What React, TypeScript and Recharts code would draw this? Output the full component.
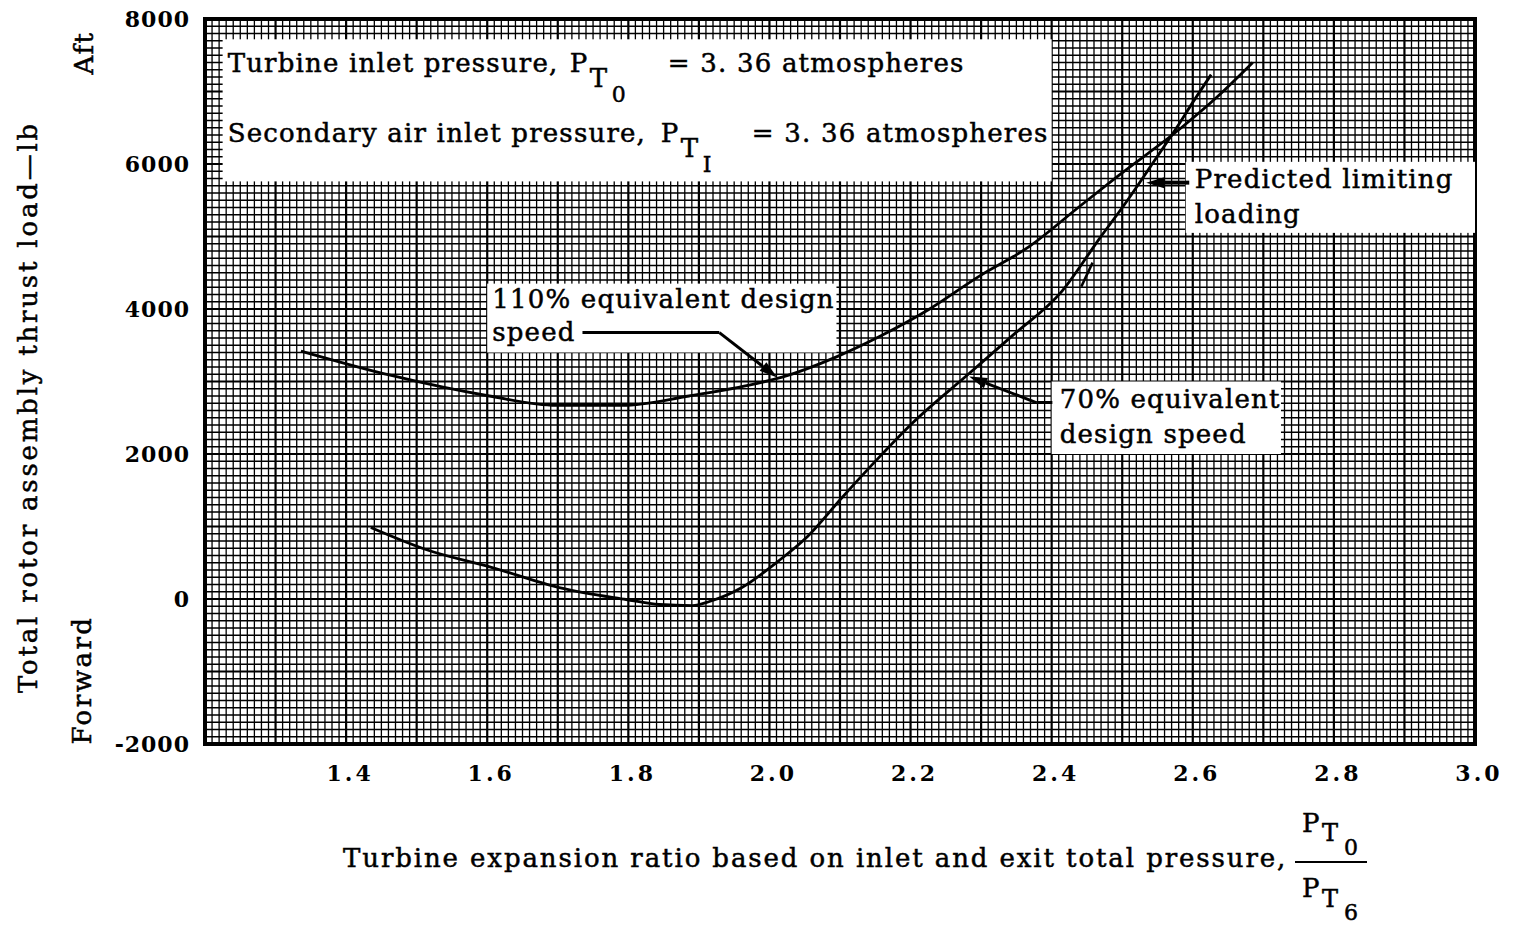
import React from 'react'
import { LineChart, Line, XAxis, YAxis, ReferenceLine, ReferenceArea } from 'recharts'

// 110% equivalent design speed
const ratio110 = [1.336, 1.461, 1.603, 1.698, 1.791, 1.886, 1.981, 2.018, 2.095, 2.156, 2.227, 2.297, 2.368, 2.439, 2.492, 2.585, 2.634, 2.685]
const load110  = [3420, 3090, 2800, 2670, 2670, 2800, 2970, 3060, 3340, 3620, 4000, 4450, 4860, 5410, 5820, 6510, 6920, 7400]

// 70% equivalent design speed
const ratio70 = [1.435, 1.513, 1.607, 1.702, 1.797, 1.844, 1.891, 1.915, 1.961, 2.010, 2.054, 2.103, 2.156, 2.202, 2.283, 2.344, 2.415, 2.468, 2.506, 2.539, 2.577, 2.600, 2.626]
const load70  = [986, 683, 434, 158, -7, -76, -90, -34, 158, 503, 862, 1400, 1960, 2420, 3110, 3630, 4250, 4975, 5480, 5950, 6500, 6850, 7233]

const xTicks = [1.4, 1.6, 1.8, 2.0, 2.2, 2.4, 2.6, 2.8, 3.0]
const yTicks = [-2000, 0, 2000, 4000, 6000, 8000]

const data110 = ratio110.map((r, i) => ({ r, load: load110[i] }))
const data70 = ratio70.map((r, i) => ({ r, load: load70[i] }))

// graph paper rulings
const gridX = Array.from({ length: 181 }, (_, i) => ({ v: Math.round((1.2 + i * 0.01) * 100) / 100, major: i % 10 === 0 }))
const gridY = Array.from({ length: 101 }, (_, i) => ({ v: -2000 + i * 100, major: i % 10 === 0 }))

const FONT = '"DejaVu Serif", serif'
const TXT = { fontFamily: FONT, fontSize: 26, fill: '#000', stroke: '#000', strokeWidth: 0.5, letterSpacing: 1.2 }

function XTick({ x, y, payload }: any) {
  return (
    <text x={x + 4} y={y + 37} textAnchor="middle" fontFamily={FONT} fontWeight="bold" fontSize={22} letterSpacing={3} fill="#000">
      {payload.value.toFixed(1)}
    </text>
  )
}

function YTick({ x, y, payload }: any) {
  return (
    <text x={x - 15} y={y + 8} textAnchor="end" fontFamily={FONT} fontWeight="bold" fontSize={22} letterSpacing={1} fill="#000">
      {payload.value}
    </text>
  )
}

function Arrow(props: any) {
  const { x1, y1, x2, y2, w = 3 } = props
  const a = Math.atan2(y2 - y1, x2 - x1)
  const L = 18, W = 5.5
  const bx = x2 - L * Math.cos(a), by = y2 - L * Math.sin(a)
  const pts = `${x2},${y2} ${bx + W * Math.sin(a)},${by - W * Math.cos(a)} ${bx - W * Math.sin(a)},${by + W * Math.cos(a)}`
  return (
    <g>
      <line x1={x1} y1={y1} x2={bx} y2={by} stroke="#000" strokeWidth={w} />
      <polygon points={pts} fill="#000" />
    </g>
  )
}

type Piece = { dx: number; dy: number; text: string; size?: number; anchor?: string }

// white panel spanning the segment's two corners, with its text
const panel = (pieces: Piece[]) => (props: any) => {
  const { x1, y1, x2, y2 } = props
  const x = Math.min(x1, x2), y = Math.min(y1, y2)
  return (
    <g>
      <rect x={x} y={y} width={Math.abs(x2 - x1)} height={Math.abs(y2 - y1)} fill="#fff" />
      {pieces.map((p, i) => (
        <text key={i} x={x + p.dx} y={y + p.dy} {...TXT} fontSize={p.size ?? 26} textAnchor={p.anchor ?? 'start'}>{p.text}</text>
      ))}
    </g>
  )
}

export default function App() {
  return (
    <div style={{ position: 'absolute', left: 0, top: 0, width: 1519, height: 925, background: '#fff' }}>
      <LineChart width={1519} height={925} margin={{ top: 19, right: 44, left: 125, bottom: 141 }}>
        <XAxis dataKey="r" type="number" domain={[1.2, 3.0]} ticks={xTicks} allowDataOverflow
          axisLine={false} tickLine={false} tickSize={0} tickMargin={0} height={40} tick={<XTick />} />
        <YAxis type="number" domain={[-2000, 8000]} ticks={yTicks} allowDataOverflow
          axisLine={false} tickLine={false} tickSize={0} tickMargin={0} width={80} tick={<YTick />} />

        {gridX.map(g => (
          <ReferenceLine key={'gx' + g.v} x={g.v} stroke="#000" strokeWidth={g.major ? 2.2 : 1.3} />
        ))}
        {gridY.map(g => (
          <ReferenceLine key={'gy' + g.v} y={g.v} stroke="#000" strokeWidth={g.major ? 2.2 : 1.3} />
        ))}

        {/* plot frame */}
        <ReferenceArea x1={1.2} x2={3.0} y1={-2000} y2={8000} fill="none" fillOpacity={0} stroke="#000" strokeWidth={4} />

        {/* white label panels */}
        <ReferenceLine segment={[{ x: 1.225, y: 7720 }, { x: 2.4, y: 5760 }]} shape={panel([
          { dx: 5, dy: 33, text: 'Turbine inlet pressure,' },
          { dx: 347, dy: 33, text: 'P' },
          { dx: 367, dy: 48, text: 'T' },
          { dx: 389, dy: 63, text: '0', size: 22 },
          { dx: 742, dy: 33, text: '= 3. 36 atmospheres', anchor: 'end' },
          { dx: 5, dy: 103, text: 'Secondary air inlet pressure,' },
          { dx: 438, dy: 103, text: 'P' },
          { dx: 458, dy: 118, text: 'T' },
          { dx: 480, dy: 133, text: 'I', size: 22 },
          { dx: 826, dy: 103, text: '= 3. 36 atmospheres', anchor: 'end' },
        ])} />
        <ReferenceLine segment={[{ x: 1.6, y: 4350 }, { x: 2.095, y: 3400 }]} shape={panel([
          { dx: 5, dy: 24, text: '110% equivalent design' },
          { dx: 5, dy: 57, text: 'speed' },
        ])} />
        <ReferenceLine segment={[{ x: 2.4, y: 3000 }, { x: 2.725, y: 2000 }]} shape={panel([
          { dx: 8, dy: 26, text: '70% equivalent' },
          { dx: 8, dy: 61, text: 'design speed' },
        ])} />
        <ReferenceLine segment={[{ x: 2.59, y: 6030 }, { x: 3.0, y: 5050 }]} shape={panel([
          { dx: 9, dy: 26, text: 'Predicted limiting' },
          { dx: 9, dy: 61, text: 'loading' },
        ])} />

        {/* leaders */}
        <ReferenceLine segment={[{ x: 1.735, y: 3675 }, { x: 1.929, y: 3675 }]} stroke="#000" strokeWidth={3} />
        <ReferenceLine segment={[{ x: 1.929, y: 3675 }, { x: 2.011, y: 3054 }]} shape={<Arrow />} />
        <ReferenceLine segment={[{ x: 2.401, y: 2710 }, { x: 2.378, y: 2710 }]} stroke="#000" strokeWidth={3} />
        <ReferenceLine segment={[{ x: 2.378, y: 2710 }, { x: 2.283, y: 3068 }]} shape={<Arrow />} />
        <ReferenceLine segment={[{ x: 2.595, y: 5743 }, { x: 2.534, y: 5743 }]} shape={<Arrow w={4} />} />
        <ReferenceLine segment={[{ x: 2.442, y: 4309 }, { x: 2.458, y: 4640 }]} stroke="#000" strokeWidth={2.5} />

        <Line data={data110} dataKey="load" type="monotone" stroke="#000" strokeWidth={2.8} dot={false} isAnimationActive={false} />
        <Line data={data70} dataKey="load" type="monotone" stroke="#000" strokeWidth={2.8} dot={false} isAnimationActive={false} />
      </LineChart>

      <svg width={1519} height={925} style={{ position: 'absolute', left: 0, top: 0, pointerEvents: 'none' }}>
        <text transform="translate(28,407) rotate(-90)" textAnchor="middle" dominantBaseline="central" {...TXT} letterSpacing={2.8}>
          Total rotor assembly thrust load—lb
        </text>
        <text transform="translate(84,53) rotate(-90)" textAnchor="middle" dominantBaseline="central" {...TXT} letterSpacing={1.5}>Aft</text>
        <text transform="translate(82,680) rotate(-90)" textAnchor="middle" dominantBaseline="central" {...TXT} letterSpacing={2.5}>Forward</text>

        <text x={343} y={867} {...TXT} letterSpacing={1.9}>Turbine expansion ratio based on inlet and exit total pressure,</text>
        <text x={1302} y={832} {...TXT}>P<tspan x={1322} y={841} fontSize={24}>T</tspan><tspan x={1344} y={855} fontSize={22}>0</tspan></text>
        <line x1={1295} y1={862} x2={1367} y2={862} stroke="#000" strokeWidth={2} />
        <text x={1302} y={897} {...TXT}>P<tspan x={1322} y={907} fontSize={24}>T</tspan><tspan x={1344} y={920} fontSize={22}>6</tspan></text>
      </svg>
    </div>
  )
}
